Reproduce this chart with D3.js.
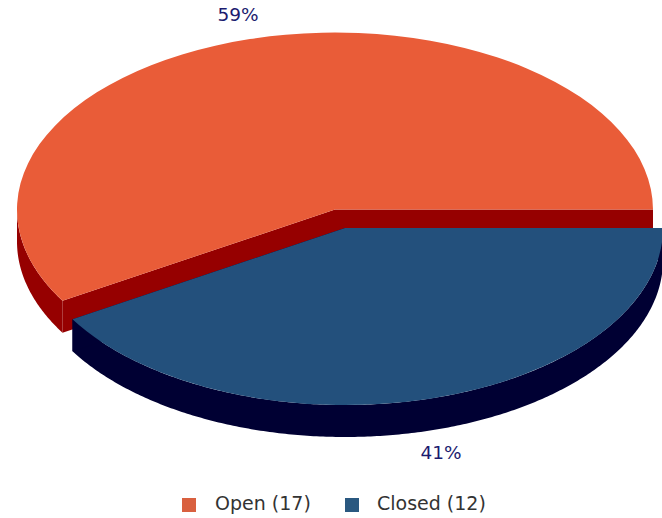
<!DOCTYPE html>
<html>
<head>
<meta charset="utf-8">
<script src="https://cdn.jsdelivr.net/npm/d3@7"></script>
<style>
html, body { margin: 0; padding: 0; background: #fff; }
svg { display: block; }
text { font-family: "DejaVu Sans", sans-serif; }
</style>
</head>
<body>
<svg id="chart" width="662" height="518"></svg>
<script>
// Ticket status counts
const categories = ["Open", "Closed"];
const counts = [17, 12];
const percentLabels = ["59%", "41%"];
const topColors = ["#E95C38", "#23507C"];
const wallColors = ["#960000", "#000033"];

const W = 662, H = 518;
const svg = d3.select("#chart").attr("viewBox", [0, 0, W, H]);

// Pie layout starts at 3 o'clock and runs counter-clockwise
const pie = d3.pie().sort(null)
  .startAngle(Math.PI / 2)
  .endAngle(Math.PI / 2 - 2 * Math.PI);
const slices = pie(counts);

const rx = 318, ry = 177, depth = 32;
const centers = [{ x: 335, y: 209.5 }, { x: 345, y: 228 }];
const labelPos = [{ x: 238, y: 21 }, { x: 441, y: 459 }];

const unitArc = d3.arc().innerRadius(0).outerRadius(1);
const line = d3.line();

// Rim point of a slice for an angle measured clockwise from 12 o'clock
const rim = (c, a, dy = 0) => [c.x + rx * Math.sin(a), c.y - ry * Math.cos(a) + dy];

// Extruded side faces of one slice
function drawWalls(slice, i) {
  const c = centers[i];
  const g = svg.append("g").attr("fill", wallColors[i]);
  const hi = Math.max(slice.startAngle, slice.endAngle);
  const lo = Math.min(slice.startAngle, slice.endAngle);

  // Curved outer wall: only the part of the rim on the near side
  const angles = d3.range(lo, hi, 0.01).concat([hi])
    .filter(a => Math.cos(a) <= 0);
  if (angles.length > 1) {
    const pts = angles.map(a => rim(c, a))
      .concat(angles.slice().reverse().map(a => rim(c, a, depth)));
    g.append("path").attr("d", line(pts) + "Z");
  }

  // Flat walls along both cut edges
  [slice.startAngle, slice.endAngle].forEach(a => {
    const pts = [[c.x, c.y], rim(c, a), rim(c, a, depth), [c.x, c.y + depth]];
    g.append("path").attr("d", line(pts) + "Z");
  });
}

slices.forEach((slice, i) => {
  drawWalls(slice, i);
  svg.append("path")
    .attr("d", unitArc(slice))
    .attr("fill", topColors[i])
    .attr("transform", `translate(${centers[i].x},${centers[i].y}) scale(${rx},${ry})`);
  svg.append("text")
    .attr("x", labelPos[i].x)
    .attr("y", labelPos[i].y)
    .attr("text-anchor", "middle")
    .attr("font-size", 18.5)
    .attr("fill", "#1B1B6F")
    .text(percentLabels[i]);
});

// Legend along the bottom
const legendX = [182, 345];
const legend = svg.append("g").selectAll("g").data(categories).join("g")
  .attr("transform", (d, i) => `translate(${legendX[i]},498)`);
legend.append("rect")
  .attr("width", 14).attr("height", 14)
  .attr("fill", (d, i) => i === 0 ? "#D9603F" : "#2A5880");
legend.append("text")
  .attr("x", (d, i) => i === 0 ? 33 : 32)
  .attr("y", 12)
  .attr("font-size", 19)
  .attr("fill", "#333")
  .text((d, i) => `${d} (${counts[i]})`);
</script>
</body>
</html>
